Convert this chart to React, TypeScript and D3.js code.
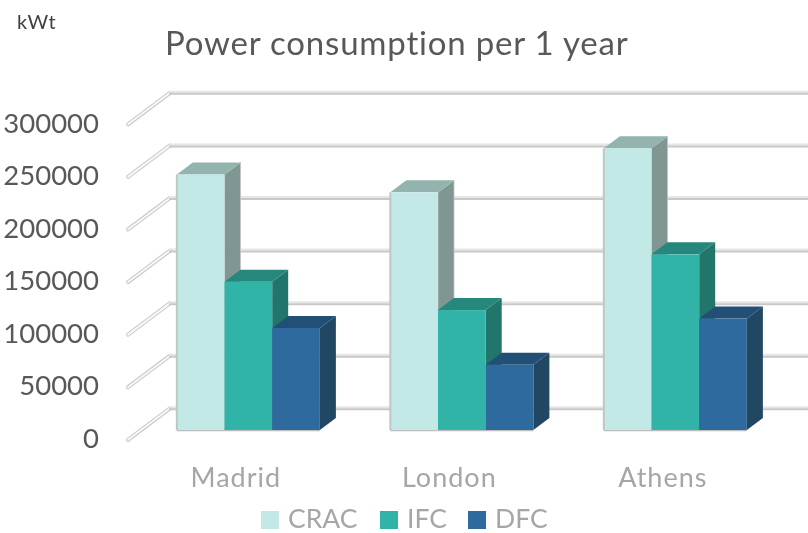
import * as d3 from 'd3';

const categories = ['Madrid', 'London', 'Athens'];
const seriesNames = ['CRAC', 'IFC', 'DFC'];
const crac = [243000, 226000, 268000];
const ifc = [141000, 114000, 167000];
const dfc = [97000, 62000, 106000];
const yTicks = [0, 50000, 100000, 150000, 200000, 250000, 300000];

const seriesValues = [crac, ifc, dfc];
const frontColors = ['#c2e9e5', '#30b3a8', '#2f6b9d'];
const topColors = ['#92b3ae', '#27887b', '#245076'];
const sideColors = ['#7f9692', '#22756b', '#204662'];

const depthX = 16;
const depthY = 12;
const font = 'Lato, Carlito, sans-serif';
const legendX = [261, 380, 468];

const x0 = d3.scaleBand().domain(categories).range([141.6, 782.1]).paddingInner(0.33).paddingOuter(0.165);
const x1 = d3.scaleBand().domain(seriesNames).range([0, x0.bandwidth()]);
// the bars stand on the floor, the gridlines sit further back on the wall
const yBar = d3.scaleLinear().domain([0, 300000]).range([430, 114.5]);
const yWall = d3.scaleLinear().domain([0, 300000]).range([408.3, 92.8]);

const textStyle = { fontVariantLigatures: 'none' } as const;

const App = () => (
  <svg width={808} height={533} style={{ position: 'absolute', left: 0, top: 0, background: '#fff' }}>
    <defs>
      <filter id="soft" x="-5%" y="-5%" width="110%" height="110%">
        <feGaussianBlur stdDeviation="0.45" />
      </filter>
      <filter id="softText" x="-5%" y="-20%" width="110%" height="140%">
        <feGaussianBlur stdDeviation="0.3" />
      </filter>
    </defs>

    <g filter="url(#soft)">
      {yTicks.map(t => {
        const y = yWall(t);
        const diagonal = `M128,${y + 31.5}L170,${y}`;
        return (
          <g key={t}>
            <path d={diagonal} fill="none" stroke="#c8c8c8" strokeWidth={4} strokeLinecap="round" />
            <path d={diagonal} fill="none" stroke="#f8f8f8" strokeWidth={2} strokeLinecap="round" />
            <path d={`M169,${y - 1}H808`} stroke="#e6e6e6" strokeWidth={2} />
            <path d={`M169,${y + 1}H808`} stroke="#c8c8c8" strokeWidth={2} />
          </g>
        );
      })}

      {categories.map((c, i) => (
        <g key={c}>
          <path d={`M${x0(c)!},${yBar(0)}H${x0(c)! + x0.bandwidth()}`} stroke="#bdbdbd" strokeWidth={2.5} />
          {seriesNames.map((s, j) => {
            const v = seriesValues[j][i];
            const left = x0(c)! + x1(s)!;
            const right = left + x1.bandwidth();
            const top = yBar(v);
            const bottom = yBar(0);
            return (
              <g key={s}>
                <path
                  d={`M${right},${top}l${depthX},${-depthY}V${bottom - depthY}L${right},${bottom}Z`}
                  fill={sideColors[j]}
                  stroke="#c4c4c4"
                  strokeWidth={j === 0 ? 0.8 : 0}
                />
                <path d={`M${left},${top}l${depthX},${-depthY}H${right + depthX}L${right},${top}Z`} fill={topColors[j]} />
                <rect x={left} y={top} width={right - left} height={bottom - top} fill={frontColors[j]} />
              </g>
            );
          })}
          <path d={`M${x0(c)!},${yBar(crac[i])}V${yBar(0)}`} stroke="#bcc8c6" strokeWidth={2} />
        </g>
      ))}
    </g>

    <g filter="url(#softText)" style={textStyle}>
      {yTicks.map(t => (
        <text key={t} x={99} y={yBar(t) + 18} textAnchor="end" fontFamily={font} fontSize={27.5} fill="#595959">
          {t}
        </text>
      ))}

      {categories.map(c => (
        <text
          key={c}
          x={x0(c)! + x0.bandwidth() / 2 - 12.5}
          y={487}
          textAnchor="middle"
          fontFamily={font}
          fontSize={27}
          letterSpacing={1}
          fill="#a6a6a6"
        >
          {c}
        </text>
      ))}

      <text x={165} y={55} fontFamily={font} fontSize={33} letterSpacing={0.8} fill="#595959">
        Power consumption per 1 year
      </text>
      <text x={17} y={29} fontFamily={font} fontSize={20} letterSpacing={0.8} fill="#404040">
        kWt
      </text>

      {seriesNames.map((s, j) => (
        <g key={s}>
          <rect x={legendX[j]} y={511} width={18} height={18} fill={frontColors[j]} />
          <text x={legendX[j] + 27} y={528} fontFamily={font} fontSize={26.5} fill="#a6a6a6">
            {s}
          </text>
        </g>
      ))}
    </g>
  </svg>
);

export default App;
